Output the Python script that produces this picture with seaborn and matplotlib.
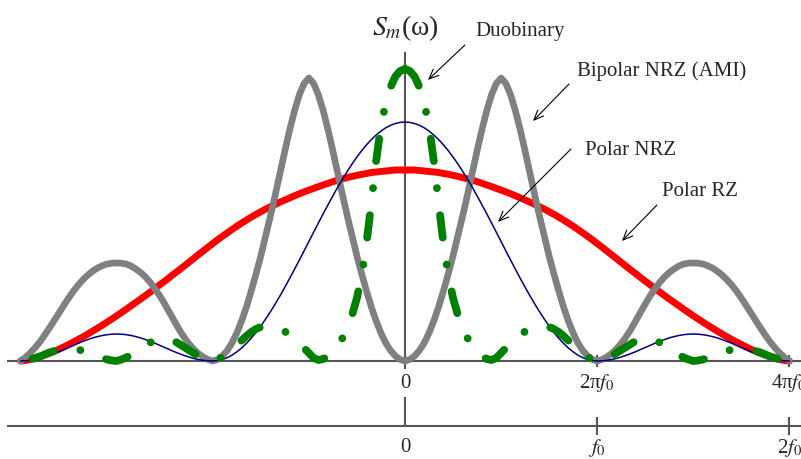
import numpy as np
import matplotlib
matplotlib.use("Agg")
import matplotlib.pyplot as plt
import seaborn as sns

# === DATA ===
# omega in units of pi*f0, right half only (every spectrum is even, left half is the mirror)
w = np.linspace(0, 4, 81)

# spectral heights (arbitrary units, peak of duobinary ~292)
polar_rz = [191, 191, 191, 190.5, 190, 189.5, 189, 188.5, 187.5, 186.7,
            185.7, 184.6, 183.4, 182.2, 180.8, 179.4, 177.7, 176.1, 174.4, 172.6,
            170.9, 169.1, 167.2, 165.2, 163.1, 161.0, 158.9, 156.6, 154.3, 151.9,
            149.3, 146.7, 143.9, 140.9, 137.9, 134.8, 131.5, 128.1, 124.7, 121.2,
            117.5, 113.8, 110.0, 106.3, 102.5, 98.6, 94.8, 91.0, 87.4, 83.6,
            79.9, 76.3, 72.6, 69.0, 65.5, 62.0, 58.6, 55.2, 51.8, 48.5,
            45.2, 42.0, 38.9, 35.8, 32.8, 29.9, 27.0, 24.2, 21.5, 19.0,
            16.5, 14.1, 11.8, 9.7, 7.7, 5.9, 4.2, 2.7, 1.5, 0.5,
            0]
polar_nrz = [239, 238.6, 237.5, 235.7, 233.2, 229.9, 226.0, 221.4, 216.2, 210.4,
             204.0, 197.1, 189.7, 181.9, 173.8, 165.2, 156.4, 147.4, 138.2, 128.9,
             119.5, 110.1, 100.8, 91.6, 82.6, 73.8, 65.2, 57.1, 49.3, 41.9,
             35.0, 28.6, 22.8, 17.6, 13.0, 9.1, 5.8, 3.3, 1.5, 0.4,
             0, 0.2, 0.7, 1.5, 2.6, 4.0, 5.6, 7.4, 9.3, 11.4,
             13.5, 15.6, 17.7, 19.6, 21.4, 23.1, 24.4, 25.5, 26.3, 26.8,
             27, 26.8, 26.3, 25.5, 24.4, 23.1, 21.4, 19.6, 17.7, 15.6,
             13.5, 11.4, 9.3, 7.4, 5.6, 4.0, 2.6, 1.5, 0.7, 0.2,
             0]
bipolar = [0, 1.5, 5, 10.5, 18, 28, 40, 54, 70, 87,
           105, 125, 145, 166, 188, 210, 231, 250, 266, 277.5,
           283, 277.5, 266, 250, 231, 210, 188, 166, 145, 125,
           105, 87, 70, 54, 40, 28, 18, 10.5, 5, 1.5,
           0, 1.5, 4, 7.5, 12, 17.5, 24, 31.5, 40, 48.5,
           57, 65, 72, 78.5, 84, 88.5, 92, 95, 97, 97.8,
           98, 97.8, 97, 95.3, 93, 89.8, 86, 81.3, 76, 69.8,
           63, 55.6, 48, 40.5, 33, 25.8, 19, 13.2, 8, 3.5,
           0]
duobinary = [292, 290, 284.5, 274, 258, 235, 200, 158, 118, 86,
             63, 46, 33, 23, 15.5, 9.5, 5, 2, 1, 3,
             8, 13, 18, 22.5, 26.5, 29.5, 32, 34, 35, 35,
             34, 32, 29, 25, 20.5, 16, 11.5, 7.5, 4, 1.5,
             0, 1, 2.5, 5, 8, 11, 14, 17, 20, 22,
             23, 22.5, 21, 18.5, 15.5, 12.5, 9, 6, 3.5, 1.5,
             0, 0.5, 1.5, 3, 4.5, 6.5, 8.5, 10, 11.5, 12.5,
             13, 12.5, 11.5, 10, 8.5, 6.5, 4.5, 3, 1.5, 0.5,
             0]

tick_pos = [2, 4]
upper_labels = ["2π$f_0$", "4π$f_0$"]
lower_labels = ["$f_0$", "2$f_0$"]

# === STYLE ===
sns.set_style("white")
plt.rcParams["font.family"] = ["Liberation Serif", "DejaVu Serif"]
plt.rcParams["mathtext.fontset"] = "stix"

fig = plt.figure(figsize=(8.01, 4.59), dpi=100)
ax = fig.add_axes([0, 0, 1, 1])
ax.set_xlim(-4.214, 4.121)
ax.set_ylim(-98, 361)
ax.set_axis_off()

axis_col = "#555555"
axis_lw = 1.5
lower_y = -65

# --- axes drawn by hand ---
ax.hlines([0, lower_y], -4.14, 4.3, color=axis_col, lw=axis_lw, zorder=1)
ax.vlines(0, -8, 309, color=axis_col, lw=axis_lw, zorder=1)
ax.vlines(0, lower_y, -36, color=axis_col, lw=axis_lw, zorder=1)
ax.vlines(tick_pos, -6, 6, color=axis_col, lw=axis_lw, zorder=1)
ax.vlines(tick_pos, lower_y - 9, lower_y + 9, color=axis_col, lw=axis_lw, zorder=1)

# --- spectra ---
curves = [
    (polar_rz, dict(color="#ff0000", lw=5, solid_capstyle="round",
                    solid_joinstyle="round"), 2),
    (bipolar, dict(color="#808080", lw=4.8, solid_capstyle="round",
                   solid_joinstyle="round"), 3),
    (polar_nrz, dict(color="#000080", lw=1.1, solid_joinstyle="round"), 4),
    (duobinary, dict(color="#008000", lw=5.6, linestyle=(0, (2.9, 3.5, 0.01, 3.5)),
                     dash_capstyle="round", dash_joinstyle="round"), 5),
]
for vals, style, z in curves:
    for sign in (1, -1):
        sns.lineplot(x=sign * w, y=vals, ax=ax, sort=False, estimator=None,
                     errorbar=None, zorder=z, **style)

# --- tick labels ---
fs = 15
ax.text(0, -22, "0", fontsize=fs, ha="center", va="center")
ax.text(0, -87, "0", fontsize=fs, ha="center", va="center")
for p, up, lo in zip(tick_pos, upper_labels, lower_labels):
    ax.text(p, -22, up, fontsize=fs, ha="center", va="center")
    ax.text(p, -87, lo, fontsize=fs, ha="center", va="center")

ax.text(-0.343, 326, "$S_m$(ω)", fontsize=20, ha="left", va="baseline")

# --- curve names with arrows ---
names = ["Duobinary", "Bipolar NRZ (AMI)", "Polar NRZ", "Polar RZ"]
name_xy = [(0.728, 325), (1.79, 285), (1.873, 206), (2.674, 165)]
arrow_from = [(0.624, 316), (1.707, 277), (1.727, 212), (2.622, 156)]
arrow_to = [(0.239, 281), (1.332, 240), (0.968, 139), (2.258, 120)]
for name, (tx, ty), a, b in zip(names, name_xy, arrow_from, arrow_to):
    ax.text(tx, ty, name, fontsize=fs, ha="left", va="baseline")
    ax.annotate("", xy=b, xytext=a,
                arrowprops=dict(arrowstyle="->,head_length=0.7,head_width=0.3",
                                lw=0.8, color="black", shrinkA=0, shrinkB=0))

fig.savefig("out.png", dpi=100)
